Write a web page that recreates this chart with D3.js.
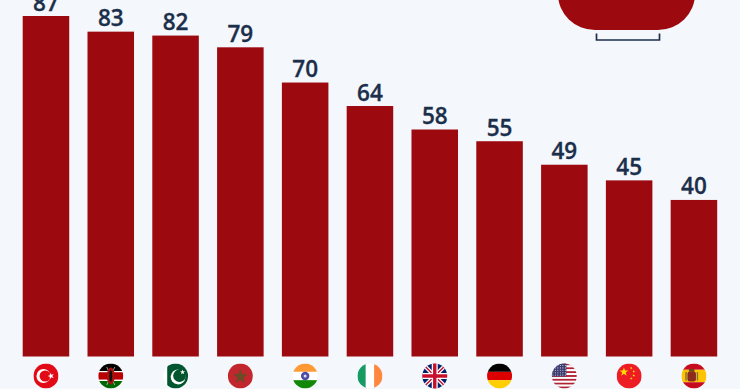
<!DOCTYPE html>
<html>
<head>
<meta charset="utf-8">
<script src="https://cdn.jsdelivr.net/npm/d3@7"></script>
<style>
  html, body { margin: 0; padding: 0; background: #f4f7fb; overflow: hidden; }
  svg { display: block; }
  .value { font-family: "Open Sans", sans-serif; font-weight: 600; font-size: 22.5px; fill: #1b2f4b; stroke: #1b2f4b; stroke-width: 0.3px; text-anchor: middle; }
</style>
</head>
<body>
<svg id="chart" width="740" height="389"></svg>
<script>
const countries = ['Turkey', 'Kenya', 'Pakistan', 'Morocco', 'India', 'Ireland', 'UK', 'Germany', 'USA', 'China', 'Spain']
const values = [87, 83, 82, 79, 70, 64, 58, 55, 49, 45, 40]

// plain stripes behind each flag, [direction, colours, relative widths]
const stripes = {
  Turkey: ['h', ['#e30a17'], [1]],
  Kenya: ['h', ['#000000', '#ffffff', '#bb0000', '#ffffff', '#006600'], [6, 1, 6, 1, 6]],
  Pakistan: ['v', ['#ffffff', '#01562f'], [1, 5]],
  Morocco: ['h', ['#c1272d'], [1]],
  India: ['h', ['#ff9933', '#ffffff', '#138808'], [1, 1, 1]],
  Ireland: ['v', ['#169b62', '#ffffff', '#ff883e'], [1, 1, 1]],
  UK: ['h', ['#012169'], [1]],
  Germany: ['h', ['#000000', '#dd0000', '#ffce00'], [1, 1, 1]],
  USA: ['h', ['#b22234', '#ffffff', '#b22234', '#ffffff', '#b22234', '#ffffff', '#b22234', '#ffffff', '#b22234', '#ffffff', '#b22234', '#ffffff', '#b22234'], [1, 1, 1, 1, 1, 1, 1, 1, 1, 1, 1, 1, 1]],
  China: ['h', ['#ee1c25'], [1]],
  Spain: ['h', ['#c60b1e', '#ffc400', '#c60b1e'], [1, 2, 1]]
}

const svg = d3.select('#chart')
const barBottom = 356.5
const flagY = 376
const flagR = 12.5
const barColor = '#9c0a10'

const xScale = d3.scaleBand().domain(countries).range([22.7, 717.2]).paddingInner(0.282).paddingOuter(0)
const yScale = d3.scaleLinear().domain([0, 87]).range([barBottom, 16])

// top right shape, cut off by the window
svg.append('path')
   .attr('d', 'M557,-10 L558,-6 A37,36 0 0 0 595,30 L658,30 A37,36 0 0 0 695,-6 L695,-10 Z')
   .attr('fill', barColor)
svg.append('path')
   .attr('d', 'M596.5,33.5 V40 H659.5 V33.5')
   .attr('fill', 'none')
   .attr('stroke', '#1b2f4b')
   .attr('stroke-width', 1.7)

svg.selectAll('.bar')
   .data(countries)
   .enter().append('rect')
   .attr('class', 'bar')
   .attr('fill', barColor)
   .attr('x', d => xScale(d))
   .attr('width', xScale.bandwidth())
   .attr('y', (d, i) => yScale(values[i]))
   .attr('height', (d, i) => barBottom - yScale(values[i]))

svg.selectAll('.value')
   .data(countries)
   .enter().append('text')
   .attr('class', 'value')
   .attr('x', d => xScale(d) + xScale.bandwidth() / 2)
   .attr('y', (d, i) => yScale(values[i]) - 5.5)
   .text((d, i) => values[i])

const star = (cx, cy, r, rot = 0) => {
  const pts = []
  for (let i = 0; i < 10; i++) {
    const a = -Math.PI / 2 + rot + i * Math.PI / 5
    const rad = i % 2 ? r * 0.4 : r
    pts.push([cx + rad * Math.cos(a), cy + rad * Math.sin(a)])
  }
  return 'M' + pts.join('L') + 'Z'
}

const crescent = (g, x, y, r, ix, ir, color, inner) => {
  g.append('circle').attr('cx', x).attr('cy', y).attr('r', r).attr('fill', color)
  g.append('circle').attr('cx', ix).attr('cy', y).attr('r', ir).attr('fill', inner)
}

// details on top of the stripes
const emblems = {
  Turkey: g => {
    crescent(g, -2.5, 0, 7, -0.8, 5.6, '#fff', '#e30a17')
    g.append('path').attr('d', star(5, 0, 3.4, -0.3)).attr('fill', '#fff')
  },
  Kenya: g => {
    g.append('path').attr('d', 'M-4,-9 L4,9 M4,-9 L-4,9').attr('stroke', '#ddd').attr('stroke-width', 0.7)
    g.append('ellipse').attr('rx', 4).attr('ry', 8.5).attr('fill', '#a8120f')
    g.append('ellipse').attr('rx', 1.5).attr('ry', 6).attr('fill', '#111')
  },
  Pakistan: g => {
    g.append('g').attr('transform', 'rotate(-40 2.5 1)').call(s => {
      crescent(s, 2.5, 1, 7.4, 4.4, 6.3, '#fff', '#01562f')
    })
    g.append('path').attr('d', star(7, -3.8, 2.6)).attr('fill', '#fff')
  },
  Morocco: g => {
    g.append('path').attr('d', star(0, 0.5, 8)).attr('fill', '#6b4a28')
  },
  India: g => {
    g.append('circle').attr('r', 4.2).attr('fill', '#000080').attr('opacity', 0.7)
    g.append('circle').attr('r', 1.5).attr('fill', '#d8daf0')
  },
  UK: g => {
    g.append('path').attr('d', 'M-13,-13 L13,13 M13,-13 L-13,13').attr('stroke', '#fff').attr('stroke-width', 4)
    g.append('path').attr('d', 'M-13,-13 L13,13 M13,-13 L-13,13').attr('stroke', '#c8102e').attr('stroke-width', 1.4)
    g.append('path').attr('d', 'M0,-13 V13 M-13,0 H13').attr('stroke', '#fff').attr('stroke-width', 6)
    g.append('path').attr('d', 'M0,-13 V13 M-13,0 H13').attr('stroke', '#c8102e').attr('stroke-width', 3.4)
  },
  USA: g => {
    g.append('rect').attr('x', -13).attr('y', -13).attr('width', 15).attr('height', 13.4).attr('fill', '#3c3b6e')
    for (let j = 0; j < 5; j++) {
      for (let i = 0; i < 6; i++) {
        g.append('circle').attr('cx', -11.5 + i * 2.5).attr('cy', -10.5 + j * 2.4).attr('r', 0.55).attr('fill', '#dfe3f2')
      }
    }
  },
  China: g => {
    g.append('path').attr('d', star(-5.2, -4, 4.6)).attr('fill', '#ffde00')
    g.append('path').attr('d', star(2, -8, 1.5, 0.5)).attr('fill', '#ffde00')
    g.append('path').attr('d', star(4.6, -4.5, 1.5, 0.9)).attr('fill', '#ffde00')
    g.append('path').attr('d', star(4.6, -0.5, 1.5, 0)).attr('fill', '#ffde00')
    g.append('path').attr('d', star(2, 2.5, 1.5, 0.5)).attr('fill', '#ffde00')
  },
  Spain: g => {
    g.append('rect').attr('x', -6.5).attr('y', -4.5).attr('width', 8.5).attr('height', 10).attr('rx', 2.5).attr('fill', '#8c2a1c')
    g.append('rect').attr('x', -5).attr('y', -7).attr('width', 5.5).attr('height', 2.8).attr('fill', '#6d4a1c')
    g.append('rect').attr('x', -8.6).attr('y', -4).attr('width', 1.4).attr('height', 8.5).attr('fill', '#7d6f52')
    g.append('rect').attr('x', 2.8).attr('y', -4).attr('width', 1.4).attr('height', 8.5).attr('fill', '#7d6f52')
  }
}

const defs = svg.append('defs')
defs.append('clipPath').attr('id', 'flagClip')
    .append('circle').attr('r', flagR)

const flags = svg.selectAll('.flag')
   .data(countries)
   .enter().append('g')
   .attr('class', 'flag')
   .attr('transform', d => `translate(${xScale(d) + xScale.bandwidth() / 2}, ${flagY})`)
   .attr('clip-path', 'url(#flagClip)')

flags.each(function(d) {
  const g = d3.select(this)
  const [dir, colors, widths] = stripes[d]
  const total = d3.sum(widths)
  let pos = -flagR
  colors.forEach((c, i) => {
    const size = 2 * flagR * widths[i] / total
    g.append('rect')
     .attr('x', dir === 'v' ? pos : -flagR)
     .attr('y', dir === 'h' ? pos : -flagR)
     .attr('width', dir === 'v' ? size : 2 * flagR)
     .attr('height', dir === 'h' ? size : 2 * flagR)
     .attr('fill', c)
    pos += size
  })
  if (emblems[d]) emblems[d](g)
})
</script>
</body>
</html>
